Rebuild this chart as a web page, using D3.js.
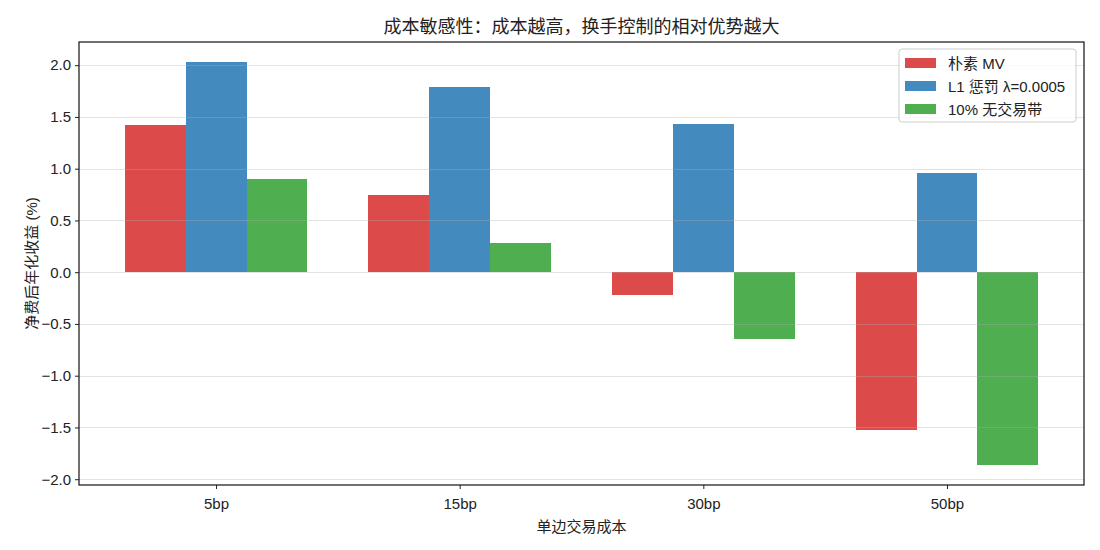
<!DOCTYPE html>
<meta charset="utf-8">
<style>
body { margin: 0; background: #fff; }
text { font-family: "Liberation Sans", "Noto Sans CJK SC", sans-serif; fill: #222; }
</style>
<body>
<div id="chart"></div>
<script src="https://d3js.org/d3.v7.min.js"></script>
<script>
// data
var categories = ["5bp", "15bp", "30bp", "50bp"];
var seriesNames = ["朴素 MV", "L1 惩罚 λ=0.0005", "10% 无交易带"];
var naiveMV = [1.42, 0.75, -0.22, -1.52];
var l1Penalty = [2.03, 1.79, 1.43, 0.96];
var noTradeBand = [0.90, 0.28, -0.65, -1.86];
var yTicks = [-2.0, -1.5, -1.0, -0.5, 0.0, 0.5, 1.0, 1.5, 2.0];
var colors = ["#dd4a4a", "#438abf", "#4fae4f"];

var series = [naiveMV, l1Penalty, noTradeBand];

/* size and margins */
var W = 1100, H = 550;
var margin = {top: 42, right: 16, bottom: 65, left: 79};
var width = W - margin.left - margin.right;
var height = H - margin.top - margin.bottom;

var svg = d3.select("#chart").append("svg")
    .attr("width", W)
    .attr("height", H);
var g = svg.append("g")
    .attr("transform", "translate(" + margin.left + "," + margin.top + ")");

var barW = 0.25;
var x = d3.scaleLinear().domain([-0.5625, 3.5625]).range([0, width]);
var y = d3.scaleLinear().domain([-2.056, 2.224]).range([height, 0]);

// bars
series.forEach(function(vals, s) {
    g.selectAll(".bar" + s)
        .data(vals)
        .enter().append("rect")
        .attr("x", function(d, i) { return x(i + (s - 1) * barW - barW / 2); })
        .attr("width", function() { return x(barW) - x(0); })
        .attr("y", function(d) { return y(Math.max(0, d)); })
        .attr("height", function(d) { return Math.abs(y(d) - y(0)); })
        .attr("fill", colors[s])
        .attr("shape-rendering", "crispEdges");
});

// grid (drawn above bars, like matplotlib)
g.selectAll(".grid")
    .data(yTicks)
    .enter().append("line")
    .attr("x1", 0).attr("x2", width)
    .attr("y1", function(d) { return Math.round(y(d)) + 0.5; })
    .attr("y2", function(d) { return Math.round(y(d)) + 0.5; })
    .attr("stroke", "#b0b0b0")
    .attr("stroke-opacity", 0.35)
    .attr("stroke-width", 1);

// axes
var fmt = function(d) { return d3.format(".1f")(d).replace("-", "\u2212"); };
var yAxis = g.append("g")
    .call(d3.axisLeft(y).tickValues(yTicks).tickFormat(fmt).tickSize(4).tickPadding(4));
var xAxis = g.append("g")
    .attr("transform", "translate(0," + height + ")")
    .call(d3.axisBottom(x).tickValues([0, 1, 2, 3])
        .tickFormat(function(d) { return categories[d]; }).tickSize(4).tickPadding(9));
[xAxis, yAxis].forEach(function(a) {
    a.selectAll("text").style("font-size", "15px").attr("fill", "#222");
    a.selectAll("line").attr("stroke", "#222");
    a.select(".domain").remove();
});

// frame
g.append("rect")
    .attr("width", width).attr("height", height)
    .attr("fill", "none").attr("stroke", "#111").attr("stroke-width", 1.2);

// title and labels
svg.append("text")
    .attr("x", margin.left + width / 2).attr("y", 33)
    .attr("text-anchor", "middle").style("font-size", "18px")
    .text("成本敏感性：成本越高，换手控制的相对优势越大");
svg.append("text")
    .attr("x", margin.left + width / 2).attr("y", 532)
    .attr("text-anchor", "middle").style("font-size", "15px")
    .text("单边交易成本");
svg.append("text")
    .attr("transform", "translate(37," + (margin.top + height / 2) + ") rotate(-90)")
    .attr("text-anchor", "middle").style("font-size", "15px")
    .text("净费后年化收益 (%)");

// legend
var lg = svg.append("g").attr("transform", "translate(899,49)");
lg.append("rect")
    .attr("width", 177).attr("height", 73).attr("rx", 3)
    .attr("fill", "#fff").attr("fill-opacity", 0.8)
    .attr("stroke", "#ccc");
seriesNames.forEach(function(name, i) {
    lg.append("rect")
        .attr("x", 6).attr("y", 9 + i * 23)
        .attr("width", 31).attr("height", 10)
        .attr("fill", colors[i]);
    lg.append("text")
        .attr("x", 49).attr("y", 19.5 + i * 23)
        .style("font-size", "15px")
        .text(name);
});
</script>
</body>
